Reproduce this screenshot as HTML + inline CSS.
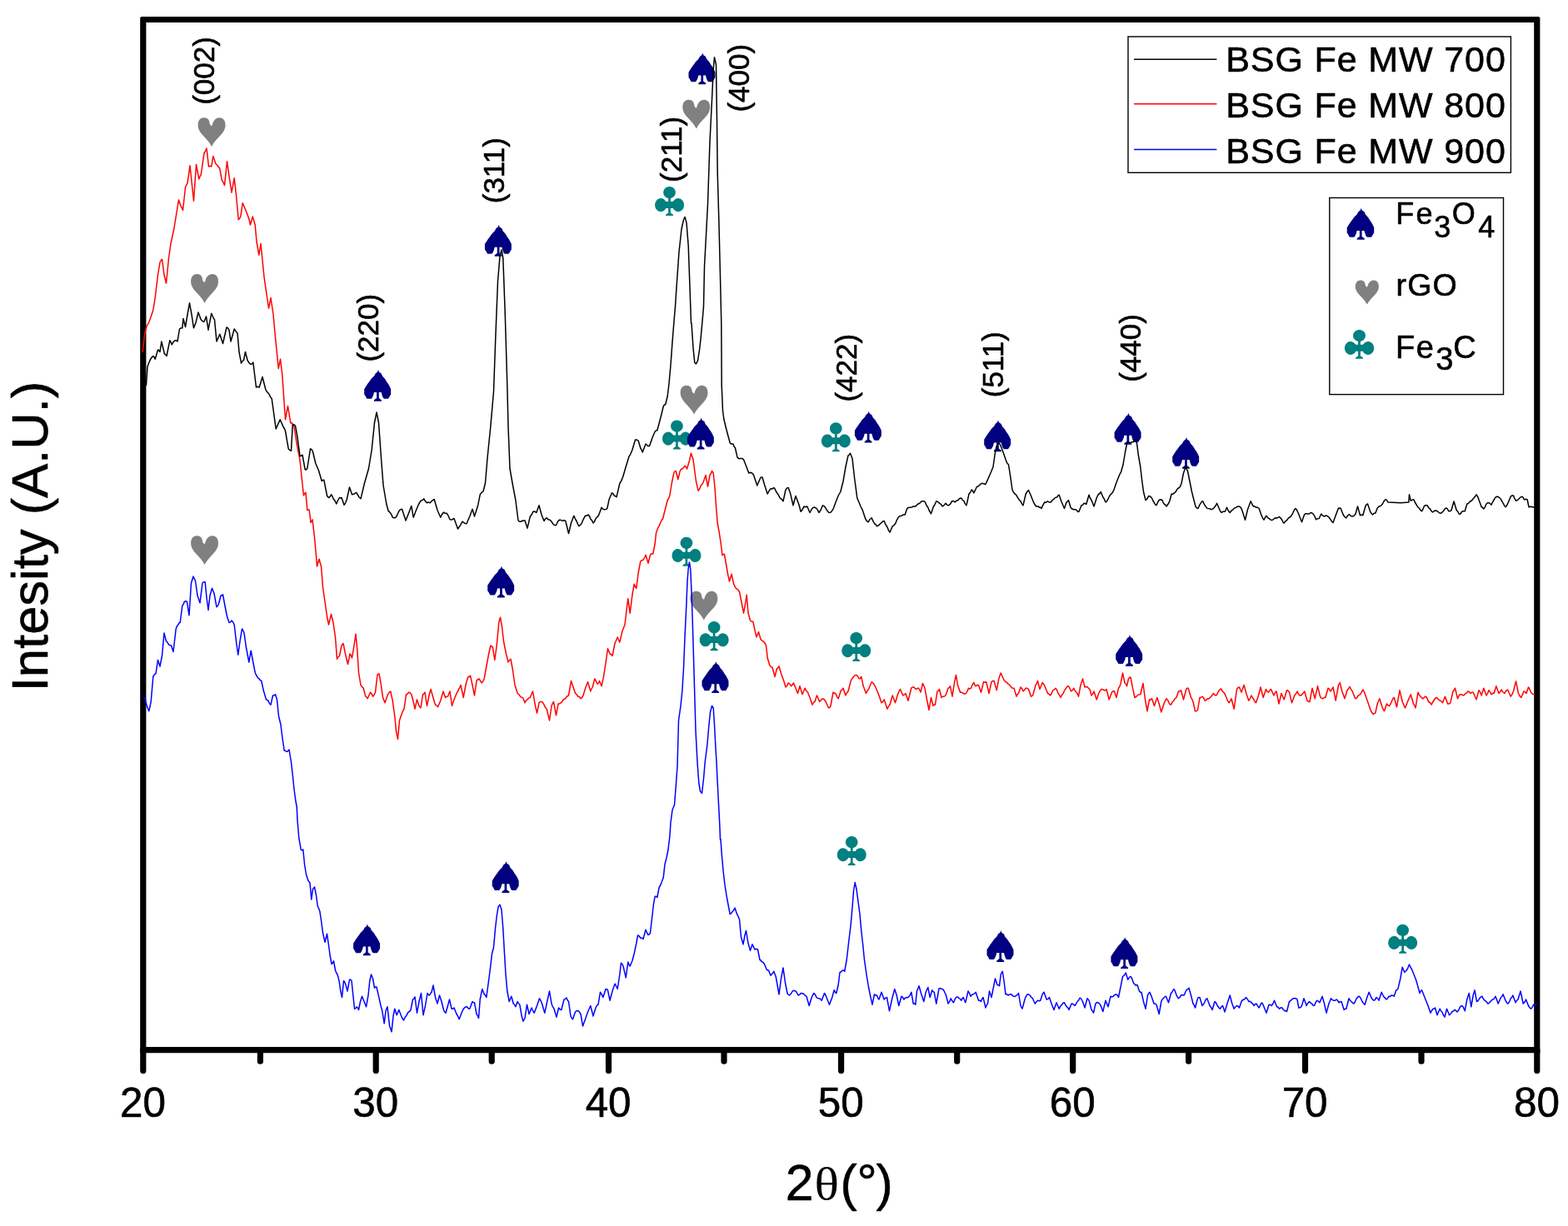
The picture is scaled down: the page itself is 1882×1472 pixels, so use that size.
<!DOCTYPE html>
<html lang="en"><head><meta charset="utf-8"><title>XRD patterns - BSG Fe MW 700 / 800 / 900</title>
<style>html,body{margin:0;padding:0;background:#fff;overflow:hidden}svg{display:block}.t{font-family:'Liberation Sans', sans-serif;fill:#000;stroke:#000;stroke-width:0.6px;stroke-linejoin:round}.c{fill:none;stroke-linejoin:round;stroke-linecap:round}</style></head>
<body>
<svg width="1882" height="1472" viewBox="0 0 1882 1472">
<rect x="0" y="0" width="1882" height="1472" fill="#fff"/>
<g id="axes" stroke="#000" stroke-width="7.2" fill="none" stroke-linecap="round" stroke-linejoin="round">
<path stroke="none" fill="#000" fill-rule="evenodd" d="M169.6 19.9H1847.0L1848.4 21.3V1264.2H168.2V21.3ZM175.4 27.1V1257.0H1841.2V27.1Z"/>
<path d="M171.8 1260.6V1285.4M312.4 1260.6V1274.2M451.2 1260.6V1285.4M590.2 1260.6V1274.2M730.5 1260.6V1285.4M869.0 1260.6V1274.2M1009.6 1260.6V1285.4M1148.7 1260.6V1274.2M1287.7 1260.6V1285.4M1426.6 1260.6V1274.2M1566.5 1260.6V1285.4M1706.0 1260.6V1274.2M1844.8 1260.6V1285.4"/>
</g>
<g id="markers">
<path class="m-heart" transform="translate(237.6 141.3)" fill="#808080" d="M16.43 9.89C15.39 9.09 14.25 8.44 14.02 6.83C13.76 3.29 12.13 0.00 6.98 0.00C2.67 0.00 0.00 3.61 0.00 9.09C0.00 13.60 2.35 17.46 5.93 21.27C10.50 26.16 14.09 30.03 16.43 34.80C18.78 30.03 22.40 26.16 27.00 21.27C30.59 17.46 32.93 13.60 32.93 9.09C32.93 3.61 30.26 0.00 25.96 0.00C21.59 0.00 18.98 3.29 17.74 6.51C17.41 7.80 17.09 9.09 16.43 9.89Z"/>
<path class="m-heart" transform="translate(229.1 329.1)" fill="#808080" d="M16.43 9.89C15.39 9.09 14.25 8.44 14.02 6.83C13.76 3.29 12.13 0.00 6.98 0.00C2.67 0.00 0.00 3.61 0.00 9.09C0.00 13.60 2.35 17.46 5.93 21.27C10.50 26.16 14.09 30.03 16.43 34.80C18.78 30.03 22.40 26.16 27.00 21.27C30.59 17.46 32.93 13.60 32.93 9.09C32.93 3.61 30.26 0.00 25.96 0.00C21.59 0.00 18.98 3.29 17.74 6.51C17.41 7.80 17.09 9.09 16.43 9.89Z"/>
<path class="m-heart" transform="translate(229.1 643.3)" fill="#808080" d="M16.43 9.89C15.39 9.09 14.25 8.44 14.02 6.83C13.76 3.29 12.13 0.00 6.98 0.00C2.67 0.00 0.00 3.61 0.00 9.09C0.00 13.60 2.35 17.46 5.93 21.27C10.50 26.16 14.09 30.03 16.43 34.80C18.78 30.03 22.40 26.16 27.00 21.27C30.59 17.46 32.93 13.60 32.93 9.09C32.93 3.61 30.26 0.00 25.96 0.00C21.59 0.00 18.98 3.29 17.74 6.51C17.41 7.80 17.09 9.09 16.43 9.89Z"/>
<path class="m-heart" transform="translate(819.3 119.8)" fill="#808080" d="M16.43 9.89C15.39 9.09 14.25 8.44 14.02 6.83C13.76 3.29 12.13 0.00 6.98 0.00C2.67 0.00 0.00 3.61 0.00 9.09C0.00 13.60 2.35 17.46 5.93 21.27C10.50 26.16 14.09 30.03 16.43 34.80C18.78 30.03 22.40 26.16 27.00 21.27C30.59 17.46 32.93 13.60 32.93 9.09C32.93 3.61 30.26 0.00 25.96 0.00C21.59 0.00 18.98 3.29 17.74 6.51C17.41 7.80 17.09 9.09 16.43 9.89Z"/>
<path class="m-heart" transform="translate(816.6 462.7)" fill="#808080" d="M16.43 9.89C15.39 9.09 14.25 8.44 14.02 6.83C13.76 3.29 12.13 0.00 6.98 0.00C2.67 0.00 0.00 3.61 0.00 9.09C0.00 13.60 2.35 17.46 5.93 21.27C10.50 26.16 14.09 30.03 16.43 34.80C18.78 30.03 22.40 26.16 27.00 21.27C30.59 17.46 32.93 13.60 32.93 9.09C32.93 3.61 30.26 0.00 25.96 0.00C21.59 0.00 18.98 3.29 17.74 6.51C17.41 7.80 17.09 9.09 16.43 9.89Z"/>
<path class="m-heart" transform="translate(828.4 709.8)" fill="#808080" d="M16.43 9.89C15.39 9.09 14.25 8.44 14.02 6.83C13.76 3.29 12.13 0.00 6.98 0.00C2.67 0.00 0.00 3.61 0.00 9.09C0.00 13.60 2.35 17.46 5.93 21.27C10.50 26.16 14.09 30.03 16.43 34.80C18.78 30.03 22.40 26.16 27.00 21.27C30.59 17.46 32.93 13.60 32.93 9.09C32.93 3.61 30.26 0.00 25.96 0.00C21.59 0.00 18.98 3.29 17.74 6.51C17.41 7.80 17.09 9.09 16.43 9.89Z"/>
<path class="m-club" transform="translate(786.0 223.9)" fill="#008080" d="M16.10 14.15L14.24 13.54L12.61 12.47L11.32 11.02L10.48 9.29L10.15 7.41L10.34 5.51L11.04 3.73L12.20 2.19L13.75 1.00L15.56 0.26L17.51 0.00L19.46 0.26L21.28 1.00L22.82 2.19L23.98 3.73L24.69 5.51L24.88 7.41L24.54 9.29L23.70 11.02L22.42 12.47L20.78 13.54L18.92 14.15L18.88 18.00L21.94 17.99L23.12 16.37L24.62 15.16L26.35 14.42L28.19 14.22L30.01 14.57L31.70 15.44L33.12 16.77L34.19 18.47L34.84 20.43L35.02 22.52L34.71 24.58L33.95 26.49L32.77 28.11L31.27 29.32L29.54 30.06L27.70 30.26L25.88 29.91L24.20 29.04L22.77 27.71L21.70 26.01L18.88 25.99L18.88 31.70L21.98 33.75L21.98 35.05L13.04 35.05L13.04 33.75L16.14 31.70L16.14 25.99L13.39 26.01L12.32 27.71L10.89 29.04L9.21 29.91L7.39 30.26L5.55 30.06L3.82 29.32L2.32 28.11L1.14 26.49L0.37 24.58L0.07 22.52L0.25 20.43L0.89 18.47L1.97 16.77L3.39 15.44L5.07 14.57L6.89 14.22L8.73 14.42L10.46 15.16L11.97 16.37L13.14 17.99L16.14 18.00Z"/>
<path class="m-club" transform="translate(794.9 504.4)" fill="#008080" d="M16.10 14.15L14.24 13.54L12.61 12.47L11.32 11.02L10.48 9.29L10.15 7.41L10.34 5.51L11.04 3.73L12.20 2.19L13.75 1.00L15.56 0.26L17.51 0.00L19.46 0.26L21.28 1.00L22.82 2.19L23.98 3.73L24.69 5.51L24.88 7.41L24.54 9.29L23.70 11.02L22.42 12.47L20.78 13.54L18.92 14.15L18.88 18.00L21.94 17.99L23.12 16.37L24.62 15.16L26.35 14.42L28.19 14.22L30.01 14.57L31.70 15.44L33.12 16.77L34.19 18.47L34.84 20.43L35.02 22.52L34.71 24.58L33.95 26.49L32.77 28.11L31.27 29.32L29.54 30.06L27.70 30.26L25.88 29.91L24.20 29.04L22.77 27.71L21.70 26.01L18.88 25.99L18.88 31.70L21.98 33.75L21.98 35.05L13.04 35.05L13.04 33.75L16.14 31.70L16.14 25.99L13.39 26.01L12.32 27.71L10.89 29.04L9.21 29.91L7.39 30.26L5.55 30.06L3.82 29.32L2.32 28.11L1.14 26.49L0.37 24.58L0.07 22.52L0.25 20.43L0.89 18.47L1.97 16.77L3.39 15.44L5.07 14.57L6.89 14.22L8.73 14.42L10.46 15.16L11.97 16.37L13.14 17.99L16.14 18.00Z"/>
<path class="m-club" transform="translate(985.8 507.2)" fill="#008080" d="M16.10 14.15L14.24 13.54L12.61 12.47L11.32 11.02L10.48 9.29L10.15 7.41L10.34 5.51L11.04 3.73L12.20 2.19L13.75 1.00L15.56 0.26L17.51 0.00L19.46 0.26L21.28 1.00L22.82 2.19L23.98 3.73L24.69 5.51L24.88 7.41L24.54 9.29L23.70 11.02L22.42 12.47L20.78 13.54L18.92 14.15L18.88 18.00L21.94 17.99L23.12 16.37L24.62 15.16L26.35 14.42L28.19 14.22L30.01 14.57L31.70 15.44L33.12 16.77L34.19 18.47L34.84 20.43L35.02 22.52L34.71 24.58L33.95 26.49L32.77 28.11L31.27 29.32L29.54 30.06L27.70 30.26L25.88 29.91L24.20 29.04L22.77 27.71L21.70 26.01L18.88 25.99L18.88 31.70L21.98 33.75L21.98 35.05L13.04 35.05L13.04 33.75L16.14 31.70L16.14 25.99L13.39 26.01L12.32 27.71L10.89 29.04L9.21 29.91L7.39 30.26L5.55 30.06L3.82 29.32L2.32 28.11L1.14 26.49L0.37 24.58L0.07 22.52L0.25 20.43L0.89 18.47L1.97 16.77L3.39 15.44L5.07 14.57L6.89 14.22L8.73 14.42L10.46 15.16L11.97 16.37L13.14 17.99L16.14 18.00Z"/>
<path class="m-club" transform="translate(806.4 644.8)" fill="#008080" d="M16.10 14.15L14.24 13.54L12.61 12.47L11.32 11.02L10.48 9.29L10.15 7.41L10.34 5.51L11.04 3.73L12.20 2.19L13.75 1.00L15.56 0.26L17.51 0.00L19.46 0.26L21.28 1.00L22.82 2.19L23.98 3.73L24.69 5.51L24.88 7.41L24.54 9.29L23.70 11.02L22.42 12.47L20.78 13.54L18.92 14.15L18.88 18.00L21.94 17.99L23.12 16.37L24.62 15.16L26.35 14.42L28.19 14.22L30.01 14.57L31.70 15.44L33.12 16.77L34.19 18.47L34.84 20.43L35.02 22.52L34.71 24.58L33.95 26.49L32.77 28.11L31.27 29.32L29.54 30.06L27.70 30.26L25.88 29.91L24.20 29.04L22.77 27.71L21.70 26.01L18.88 25.99L18.88 31.70L21.98 33.75L21.98 35.05L13.04 35.05L13.04 33.75L16.14 31.70L16.14 25.99L13.39 26.01L12.32 27.71L10.89 29.04L9.21 29.91L7.39 30.26L5.55 30.06L3.82 29.32L2.32 28.11L1.14 26.49L0.37 24.58L0.07 22.52L0.25 20.43L0.89 18.47L1.97 16.77L3.39 15.44L5.07 14.57L6.89 14.22L8.73 14.42L10.46 15.16L11.97 16.37L13.14 17.99L16.14 18.00Z"/>
<path class="m-club" transform="translate(839.6 746.1)" fill="#008080" d="M16.10 14.15L14.24 13.54L12.61 12.47L11.32 11.02L10.48 9.29L10.15 7.41L10.34 5.51L11.04 3.73L12.20 2.19L13.75 1.00L15.56 0.26L17.51 0.00L19.46 0.26L21.28 1.00L22.82 2.19L23.98 3.73L24.69 5.51L24.88 7.41L24.54 9.29L23.70 11.02L22.42 12.47L20.78 13.54L18.92 14.15L18.88 18.00L21.94 17.99L23.12 16.37L24.62 15.16L26.35 14.42L28.19 14.22L30.01 14.57L31.70 15.44L33.12 16.77L34.19 18.47L34.84 20.43L35.02 22.52L34.71 24.58L33.95 26.49L32.77 28.11L31.27 29.32L29.54 30.06L27.70 30.26L25.88 29.91L24.20 29.04L22.77 27.71L21.70 26.01L18.88 25.99L18.88 31.70L21.98 33.75L21.98 35.05L13.04 35.05L13.04 33.75L16.14 31.70L16.14 25.99L13.39 26.01L12.32 27.71L10.89 29.04L9.21 29.91L7.39 30.26L5.55 30.06L3.82 29.32L2.32 28.11L1.14 26.49L0.37 24.58L0.07 22.52L0.25 20.43L0.89 18.47L1.97 16.77L3.39 15.44L5.07 14.57L6.89 14.22L8.73 14.42L10.46 15.16L11.97 16.37L13.14 17.99L16.14 18.00Z"/>
<path class="m-club" transform="translate(1010.2 759.0)" fill="#008080" d="M16.10 14.15L14.24 13.54L12.61 12.47L11.32 11.02L10.48 9.29L10.15 7.41L10.34 5.51L11.04 3.73L12.20 2.19L13.75 1.00L15.56 0.26L17.51 0.00L19.46 0.26L21.28 1.00L22.82 2.19L23.98 3.73L24.69 5.51L24.88 7.41L24.54 9.29L23.70 11.02L22.42 12.47L20.78 13.54L18.92 14.15L18.88 18.00L21.94 17.99L23.12 16.37L24.62 15.16L26.35 14.42L28.19 14.22L30.01 14.57L31.70 15.44L33.12 16.77L34.19 18.47L34.84 20.43L35.02 22.52L34.71 24.58L33.95 26.49L32.77 28.11L31.27 29.32L29.54 30.06L27.70 30.26L25.88 29.91L24.20 29.04L22.77 27.71L21.70 26.01L18.88 25.99L18.88 31.70L21.98 33.75L21.98 35.05L13.04 35.05L13.04 33.75L16.14 31.70L16.14 25.99L13.39 26.01L12.32 27.71L10.89 29.04L9.21 29.91L7.39 30.26L5.55 30.06L3.82 29.32L2.32 28.11L1.14 26.49L0.37 24.58L0.07 22.52L0.25 20.43L0.89 18.47L1.97 16.77L3.39 15.44L5.07 14.57L6.89 14.22L8.73 14.42L10.46 15.16L11.97 16.37L13.14 17.99L16.14 18.00Z"/>
<path class="m-club" transform="translate(1004.7 1004.0)" fill="#008080" d="M16.10 14.15L14.24 13.54L12.61 12.47L11.32 11.02L10.48 9.29L10.15 7.41L10.34 5.51L11.04 3.73L12.20 2.19L13.75 1.00L15.56 0.26L17.51 0.00L19.46 0.26L21.28 1.00L22.82 2.19L23.98 3.73L24.69 5.51L24.88 7.41L24.54 9.29L23.70 11.02L22.42 12.47L20.78 13.54L18.92 14.15L18.88 18.00L21.94 17.99L23.12 16.37L24.62 15.16L26.35 14.42L28.19 14.22L30.01 14.57L31.70 15.44L33.12 16.77L34.19 18.47L34.84 20.43L35.02 22.52L34.71 24.58L33.95 26.49L32.77 28.11L31.27 29.32L29.54 30.06L27.70 30.26L25.88 29.91L24.20 29.04L22.77 27.71L21.70 26.01L18.88 25.99L18.88 31.70L21.98 33.75L21.98 35.05L13.04 35.05L13.04 33.75L16.14 31.70L16.14 25.99L13.39 26.01L12.32 27.71L10.89 29.04L9.21 29.91L7.39 30.26L5.55 30.06L3.82 29.32L2.32 28.11L1.14 26.49L0.37 24.58L0.07 22.52L0.25 20.43L0.89 18.47L1.97 16.77L3.39 15.44L5.07 14.57L6.89 14.22L8.73 14.42L10.46 15.16L11.97 16.37L13.14 17.99L16.14 18.00Z"/>
<path class="m-club" transform="translate(1666.1 1109.7)" fill="#008080" d="M16.10 14.15L14.24 13.54L12.61 12.47L11.32 11.02L10.48 9.29L10.15 7.41L10.34 5.51L11.04 3.73L12.20 2.19L13.75 1.00L15.56 0.26L17.51 0.00L19.46 0.26L21.28 1.00L22.82 2.19L23.98 3.73L24.69 5.51L24.88 7.41L24.54 9.29L23.70 11.02L22.42 12.47L20.78 13.54L18.92 14.15L18.88 18.00L21.94 17.99L23.12 16.37L24.62 15.16L26.35 14.42L28.19 14.22L30.01 14.57L31.70 15.44L33.12 16.77L34.19 18.47L34.84 20.43L35.02 22.52L34.71 24.58L33.95 26.49L32.77 28.11L31.27 29.32L29.54 30.06L27.70 30.26L25.88 29.91L24.20 29.04L22.77 27.71L21.70 26.01L18.88 25.99L18.88 31.70L21.98 33.75L21.98 35.05L13.04 35.05L13.04 33.75L16.14 31.70L16.14 25.99L13.39 26.01L12.32 27.71L10.89 29.04L9.21 29.91L7.39 30.26L5.55 30.06L3.82 29.32L2.32 28.11L1.14 26.49L0.37 24.58L0.07 22.52L0.25 20.43L0.89 18.47L1.97 16.77L3.39 15.44L5.07 14.57L6.89 14.22L8.73 14.42L10.46 15.16L11.97 16.37L13.14 17.99L16.14 18.00Z"/>
<path class="m-spade" transform="translate(437.2 443.9)" fill="#000080" d="M16.79 0.00L17.67 2.67L20.48 4.50L21.78 7.66L24.72 10.92L26.67 14.09L28.96 17.35L30.59 20.38L31.96 23.32L31.96 29.67L30.75 31.63L29.77 33.26L28.63 34.96L23.74 34.96L22.27 33.10L21.20 30.00L20.48 27.07L17.61 27.07L17.61 34.08L20.64 36.46L20.64 37.89L11.77 37.89L11.77 36.46L14.87 34.08L14.87 27.07L11.74 27.07L11.09 30.00L9.78 33.10L8.48 34.96L3.26 34.96L2.22 33.26L1.40 31.63L0.00 29.67L0.00 23.32L1.83 20.38L4.11 16.96L6.39 13.92L8.67 10.66L11.93 7.40L13.63 4.24L15.85 2.67Z"/>
<path class="m-spade" transform="translate(581.9 269.8)" fill="#000080" d="M16.79 0.00L17.67 2.67L20.48 4.50L21.78 7.66L24.72 10.92L26.67 14.09L28.96 17.35L30.59 20.38L31.96 23.32L31.96 29.67L30.75 31.63L29.77 33.26L28.63 34.96L23.74 34.96L22.27 33.10L21.20 30.00L20.48 27.07L17.61 27.07L17.61 34.08L20.64 36.46L20.64 37.89L11.77 37.89L11.77 36.46L14.87 34.08L14.87 27.07L11.74 27.07L11.09 30.00L9.78 33.10L8.48 34.96L3.26 34.96L2.22 33.26L1.40 31.63L0.00 29.67L0.00 23.32L1.83 20.38L4.11 16.96L6.39 13.92L8.67 10.66L11.93 7.40L13.63 4.24L15.85 2.67Z"/>
<path class="m-spade" transform="translate(826.5 63.4)" fill="#000080" d="M16.79 0.00L17.67 2.67L20.48 4.50L21.78 7.66L24.72 10.92L26.67 14.09L28.96 17.35L30.59 20.38L31.96 23.32L31.96 29.67L30.75 31.63L29.77 33.26L28.63 34.96L23.74 34.96L22.27 33.10L21.20 30.00L20.48 27.07L17.61 27.07L17.61 34.08L20.64 36.46L20.64 37.89L11.77 37.89L11.77 36.46L14.87 34.08L14.87 27.07L11.74 27.07L11.09 30.00L9.78 33.10L8.48 34.96L3.26 34.96L2.22 33.26L1.40 31.63L0.00 29.67L0.00 23.32L1.83 20.38L4.11 16.96L6.39 13.92L8.67 10.66L11.93 7.40L13.63 4.24L15.85 2.67Z"/>
<path class="m-spade" transform="translate(824.9 501.6)" fill="#000080" d="M16.79 0.00L17.67 2.67L20.48 4.50L21.78 7.66L24.72 10.92L26.67 14.09L28.96 17.35L30.59 20.38L31.96 23.32L31.96 29.67L30.75 31.63L29.77 33.26L28.63 34.96L23.74 34.96L22.27 33.10L21.20 30.00L20.48 27.07L17.61 27.07L17.61 34.08L20.64 36.46L20.64 37.89L11.77 37.89L11.77 36.46L14.87 34.08L14.87 27.07L11.74 27.07L11.09 30.00L9.78 33.10L8.48 34.96L3.26 34.96L2.22 33.26L1.40 31.63L0.00 29.67L0.00 23.32L1.83 20.38L4.11 16.96L6.39 13.92L8.67 10.66L11.93 7.40L13.63 4.24L15.85 2.67Z"/>
<path class="m-spade" transform="translate(1025.9 493.7)" fill="#000080" d="M16.79 0.00L17.67 2.67L20.48 4.50L21.78 7.66L24.72 10.92L26.67 14.09L28.96 17.35L30.59 20.38L31.96 23.32L31.96 29.67L30.75 31.63L29.77 33.26L28.63 34.96L23.74 34.96L22.27 33.10L21.20 30.00L20.48 27.07L17.61 27.07L17.61 34.08L20.64 36.46L20.64 37.89L11.77 37.89L11.77 36.46L14.87 34.08L14.87 27.07L11.74 27.07L11.09 30.00L9.78 33.10L8.48 34.96L3.26 34.96L2.22 33.26L1.40 31.63L0.00 29.67L0.00 23.32L1.83 20.38L4.11 16.96L6.39 13.92L8.67 10.66L11.93 7.40L13.63 4.24L15.85 2.67Z"/>
<path class="m-spade" transform="translate(1181.2 504.4)" fill="#000080" d="M16.79 0.00L17.67 2.67L20.48 4.50L21.78 7.66L24.72 10.92L26.67 14.09L28.96 17.35L30.59 20.38L31.96 23.32L31.96 29.67L30.75 31.63L29.77 33.26L28.63 34.96L23.74 34.96L22.27 33.10L21.20 30.00L20.48 27.07L17.61 27.07L17.61 34.08L20.64 36.46L20.64 37.89L11.77 37.89L11.77 36.46L14.87 34.08L14.87 27.07L11.74 27.07L11.09 30.00L9.78 33.10L8.48 34.96L3.26 34.96L2.22 33.26L1.40 31.63L0.00 29.67L0.00 23.32L1.83 20.38L4.11 16.96L6.39 13.92L8.67 10.66L11.93 7.40L13.63 4.24L15.85 2.67Z"/>
<path class="m-spade" transform="translate(1337.6 495.8)" fill="#000080" d="M16.79 0.00L17.67 2.67L20.48 4.50L21.78 7.66L24.72 10.92L26.67 14.09L28.96 17.35L30.59 20.38L31.96 23.32L31.96 29.67L30.75 31.63L29.77 33.26L28.63 34.96L23.74 34.96L22.27 33.10L21.20 30.00L20.48 27.07L17.61 27.07L17.61 34.08L20.64 36.46L20.64 37.89L11.77 37.89L11.77 36.46L14.87 34.08L14.87 27.07L11.74 27.07L11.09 30.00L9.78 33.10L8.48 34.96L3.26 34.96L2.22 33.26L1.40 31.63L0.00 29.67L0.00 23.32L1.83 20.38L4.11 16.96L6.39 13.92L8.67 10.66L11.93 7.40L13.63 4.24L15.85 2.67Z"/>
<path class="m-spade" transform="translate(1407.2 524.9)" fill="#000080" d="M16.79 0.00L17.67 2.67L20.48 4.50L21.78 7.66L24.72 10.92L26.67 14.09L28.96 17.35L30.59 20.38L31.96 23.32L31.96 29.67L30.75 31.63L29.77 33.26L28.63 34.96L23.74 34.96L22.27 33.10L21.20 30.00L20.48 27.07L17.61 27.07L17.61 34.08L20.64 36.46L20.64 37.89L11.77 37.89L11.77 36.46L14.87 34.08L14.87 27.07L11.74 27.07L11.09 30.00L9.78 33.10L8.48 34.96L3.26 34.96L2.22 33.26L1.40 31.63L0.00 29.67L0.00 23.32L1.83 20.38L4.11 16.96L6.39 13.92L8.67 10.66L11.93 7.40L13.63 4.24L15.85 2.67Z"/>
<path class="m-spade" transform="translate(585.2 679.5)" fill="#000080" d="M16.79 0.00L17.67 2.67L20.48 4.50L21.78 7.66L24.72 10.92L26.67 14.09L28.96 17.35L30.59 20.38L31.96 23.32L31.96 29.67L30.75 31.63L29.77 33.26L28.63 34.96L23.74 34.96L22.27 33.10L21.20 30.00L20.48 27.07L17.61 27.07L17.61 34.08L20.64 36.46L20.64 37.89L11.77 37.89L11.77 36.46L14.87 34.08L14.87 27.07L11.74 27.07L11.09 30.00L9.78 33.10L8.48 34.96L3.26 34.96L2.22 33.26L1.40 31.63L0.00 29.67L0.00 23.32L1.83 20.38L4.11 16.96L6.39 13.92L8.67 10.66L11.93 7.40L13.63 4.24L15.85 2.67Z"/>
<path class="m-spade" transform="translate(1339.2 762.0)" fill="#000080" d="M16.79 0.00L17.67 2.67L20.48 4.50L21.78 7.66L24.72 10.92L26.67 14.09L28.96 17.35L30.59 20.38L31.96 23.32L31.96 29.67L30.75 31.63L29.77 33.26L28.63 34.96L23.74 34.96L22.27 33.10L21.20 30.00L20.48 27.07L17.61 27.07L17.61 34.08L20.64 36.46L20.64 37.89L11.77 37.89L11.77 36.46L14.87 34.08L14.87 27.07L11.74 27.07L11.09 30.00L9.78 33.10L8.48 34.96L3.26 34.96L2.22 33.26L1.40 31.63L0.00 29.67L0.00 23.32L1.83 20.38L4.11 16.96L6.39 13.92L8.67 10.66L11.93 7.40L13.63 4.24L15.85 2.67Z"/>
<path class="m-spade" transform="translate(842.5 794.2)" fill="#000080" d="M16.79 0.00L17.67 2.67L20.48 4.50L21.78 7.66L24.72 10.92L26.67 14.09L28.96 17.35L30.59 20.38L31.96 23.32L31.96 29.67L30.75 31.63L29.77 33.26L28.63 34.96L23.74 34.96L22.27 33.10L21.20 30.00L20.48 27.07L17.61 27.07L17.61 34.08L20.64 36.46L20.64 37.89L11.77 37.89L11.77 36.46L14.87 34.08L14.87 27.07L11.74 27.07L11.09 30.00L9.78 33.10L8.48 34.96L3.26 34.96L2.22 33.26L1.40 31.63L0.00 29.67L0.00 23.32L1.83 20.38L4.11 16.96L6.39 13.92L8.67 10.66L11.93 7.40L13.63 4.24L15.85 2.67Z"/>
<path class="m-spade" transform="translate(424.1 1109.4)" fill="#000080" d="M16.79 0.00L17.67 2.67L20.48 4.50L21.78 7.66L24.72 10.92L26.67 14.09L28.96 17.35L30.59 20.38L31.96 23.32L31.96 29.67L30.75 31.63L29.77 33.26L28.63 34.96L23.74 34.96L22.27 33.10L21.20 30.00L20.48 27.07L17.61 27.07L17.61 34.08L20.64 36.46L20.64 37.89L11.77 37.89L11.77 36.46L14.87 34.08L14.87 27.07L11.74 27.07L11.09 30.00L9.78 33.10L8.48 34.96L3.26 34.96L2.22 33.26L1.40 31.63L0.00 29.67L0.00 23.32L1.83 20.38L4.11 16.96L6.39 13.92L8.67 10.66L11.93 7.40L13.63 4.24L15.85 2.67Z"/>
<path class="m-spade" transform="translate(590.7 1034.1)" fill="#000080" d="M16.79 0.00L17.67 2.67L20.48 4.50L21.78 7.66L24.72 10.92L26.67 14.09L28.96 17.35L30.59 20.38L31.96 23.32L31.96 29.67L30.75 31.63L29.77 33.26L28.63 34.96L23.74 34.96L22.27 33.10L21.20 30.00L20.48 27.07L17.61 27.07L17.61 34.08L20.64 36.46L20.64 37.89L11.77 37.89L11.77 36.46L14.87 34.08L14.87 27.07L11.74 27.07L11.09 30.00L9.78 33.10L8.48 34.96L3.26 34.96L2.22 33.26L1.40 31.63L0.00 29.67L0.00 23.32L1.83 20.38L4.11 16.96L6.39 13.92L8.67 10.66L11.93 7.40L13.63 4.24L15.85 2.67Z"/>
<path class="m-spade" transform="translate(1184.5 1117.0)" fill="#000080" d="M16.79 0.00L17.67 2.67L20.48 4.50L21.78 7.66L24.72 10.92L26.67 14.09L28.96 17.35L30.59 20.38L31.96 23.32L31.96 29.67L30.75 31.63L29.77 33.26L28.63 34.96L23.74 34.96L22.27 33.10L21.20 30.00L20.48 27.07L17.61 27.07L17.61 34.08L20.64 36.46L20.64 37.89L11.77 37.89L11.77 36.46L14.87 34.08L14.87 27.07L11.74 27.07L11.09 30.00L9.78 33.10L8.48 34.96L3.26 34.96L2.22 33.26L1.40 31.63L0.00 29.67L0.00 23.32L1.83 20.38L4.11 16.96L6.39 13.92L8.67 10.66L11.93 7.40L13.63 4.24L15.85 2.67Z"/>
<path class="m-spade" transform="translate(1333.4 1125.2)" fill="#000080" d="M16.79 0.00L17.67 2.67L20.48 4.50L21.78 7.66L24.72 10.92L26.67 14.09L28.96 17.35L30.59 20.38L31.96 23.32L31.96 29.67L30.75 31.63L29.77 33.26L28.63 34.96L23.74 34.96L22.27 33.10L21.20 30.00L20.48 27.07L17.61 27.07L17.61 34.08L20.64 36.46L20.64 37.89L11.77 37.89L11.77 36.46L14.87 34.08L14.87 27.07L11.74 27.07L11.09 30.00L9.78 33.10L8.48 34.96L3.26 34.96L2.22 33.26L1.40 31.63L0.00 29.67L0.00 23.32L1.83 20.38L4.11 16.96L6.39 13.92L8.67 10.66L11.93 7.40L13.63 4.24L15.85 2.67Z"/>
</g>
<g id="miller" class="t" font-size="35" text-anchor="middle">
<text transform="translate(256.5 85.0) rotate(-90)">(002)</text>
<text transform="translate(454.0 393.7) rotate(-90)">(220)</text>
<text transform="translate(605.0 204.7) rotate(-90)">(311)</text>
<text transform="translate(817.7 179.4) rotate(-90)">(211)</text>
<text transform="translate(899.0 93.7) rotate(-90)">(400)</text>
<text transform="translate(1027.7 441.7) rotate(-90)">(422)</text>
<text transform="translate(1204.0 437.7) rotate(-90)">(511)</text>
<text transform="translate(1369.0 418.0) rotate(-90)">(440)</text>
</g>
<g id="curves" class="c" stroke-width="1.5">
<polyline stroke="#0000ff" points="172.0,837.5 173.1,837.8 174.5,840.0 176.2,847.5 178.8,853.8 181.2,842.5 183.8,812.5 185.5,809.7 187.0,808.8 189.5,792.5 192.0,800.0 194.5,787.5 197.0,760.0 199.5,770.0 200.7,770.8 202.5,773.8 203.7,774.7 205.5,775.0 208.0,782.5 211.2,755.0 212.2,752.2 213.8,750.0 215.3,747.7 216.2,747.5 218.8,727.5 220.2,725.4 221.2,722.5 223.1,721.7 224.5,722.5 227.0,738.8 229.5,700.0 232.0,692.0 234.5,697.5 237.0,715.0 240.0,723.8 243.0,700.0 244.4,698.8 246.2,698.8 248.0,717.5 250.0,732.5 252.0,715.0 254.5,706.2 257.0,712.5 260.0,728.8 261.4,727.3 262.5,725.0 265.0,715.0 266.5,715.0 267.5,713.8 270.0,727.5 272.5,740.0 275.0,747.5 276.4,747.1 278.0,745.0 279.7,746.9 281.2,750.0 283.8,772.5 285.8,786.2 288.0,770.0 290.5,755.0 291.9,757.3 293.0,760.0 295.5,777.5 298.8,795.0 301.2,781.2 303.8,795.0 306.2,807.5 307.3,810.1 308.8,812.5 310.0,814.3 311.2,815.0 312.2,816.7 313.8,817.5 316.2,828.8 319.5,840.0 321.1,840.5 322.5,842.5 323.5,844.7 325.0,846.2 327.5,835.0 329.4,834.7 330.5,833.8 332.5,840.0 334.5,860.0 337.0,870.0 338.8,885.0 341.2,901.2 342.4,901.3 343.8,902.5 345.4,902.0 347.0,900.0 349.5,915.0 351.2,930.0 353.0,947.5 355.0,962.5 356.2,968.0 357.0,985.0 358.8,1006.2 361.2,1020.0 362.2,1020.8 363.8,1020.0 365.5,1037.5 367.5,1050.0 370.0,1057.5 372.0,1060.0 373.8,1080.0 375.5,1067.5 377.5,1065.0 379.5,1075.0 381.2,1087.5 383.8,1093.8 385.5,1105.0 387.5,1120.0 390.0,1131.2 392.5,1121.2 394.5,1135.0 396.2,1147.5 398.0,1157.5 399.1,1156.4 400.5,1153.8 402.5,1165.0 404.0,1168.7 405.0,1170.0 407.0,1177.5 408.8,1190.0 410.5,1197.5 412.5,1177.5 413.9,1179.5 415.0,1182.5 417.0,1190.0 419.5,1176.2 420.5,1176.1 422.0,1177.5 423.8,1195.0 425.5,1211.2 426.8,1210.6 428.0,1208.8 429.3,1210.1 430.5,1212.5 432.5,1202.5 434.5,1196.2 437.0,1202.5 439.5,1208.8 442.0,1195.0 443.8,1177.5 445.5,1170.0 447.5,1175.0 449.5,1186.2 450.5,1184.9 452.0,1185.0 454.5,1196.2 457.0,1207.5 458.8,1213.8 461.2,1228.8 463.0,1213.8 465.0,1208.8 467.5,1231.2 470.0,1238.8 472.0,1220.0 473.8,1211.2 476.2,1218.8 478.8,1212.5 481.2,1218.8 482.6,1222.0 484.5,1225.0 486.1,1221.5 487.5,1220.0 489.3,1216.3 490.5,1215.0 491.5,1214.5 493.0,1212.5 495.5,1200.0 496.6,1199.4 498.0,1197.0 500.5,1216.2 503.0,1202.5 505.5,1192.5 508.0,1218.8 510.5,1207.5 513.0,1192.5 514.4,1194.6 515.5,1195.0 517.0,1192.3 518.0,1191.2 520.0,1183.0 522.5,1197.5 525.0,1205.0 527.5,1195.0 530.0,1202.5 532.5,1212.5 533.6,1214.9 535.0,1216.2 537.5,1207.5 539.5,1200.0 542.0,1211.2 543.5,1211.2 545.0,1210.0 548.0,1217.5 549.3,1219.5 551.2,1223.8 554.5,1215.0 556.2,1211.4 557.5,1210.0 558.8,1208.9 560.5,1208.8 562.2,1210.9 563.8,1211.2 567.0,1202.5 568.3,1203.7 569.5,1203.8 572.0,1217.5 573.1,1219.2 574.5,1222.5 576.2,1200.0 578.8,1187.5 581.2,1193.8 582.5,1194.8 583.8,1197.5 586.2,1180.0 588.8,1160.0 590.5,1145.0 592.5,1137.5 594.5,1115.0 596.2,1100.0 598.0,1088.8 600.0,1086.2 602.0,1092.5 603.8,1115.0 605.5,1145.0 607.0,1170.0 608.8,1190.0 611.2,1202.5 613.8,1196.2 616.2,1205.0 617.6,1206.2 618.8,1208.8 621.2,1202.5 622.4,1204.8 623.8,1206.2 626.2,1220.0 628.0,1226.2 630.0,1222.5 632.5,1206.2 635.0,1217.5 638.0,1210.0 639.7,1213.7 641.2,1216.2 644.5,1207.5 647.5,1198.8 649.0,1201.4 650.5,1205.0 653.8,1216.2 656.2,1205.0 659.5,1190.0 662.0,1205.0 663.1,1208.1 665.0,1211.2 668.0,1221.2 670.5,1210.0 671.9,1211.8 673.8,1212.5 677.0,1200.0 678.3,1199.6 680.0,1198.0 681.1,1200.8 682.5,1202.5 685.0,1220.0 686.3,1222.4 687.5,1223.8 690.5,1215.0 692.2,1213.5 693.8,1213.8 694.9,1214.3 697.0,1217.5 699.5,1232.0 702.5,1223.8 705.5,1215.0 708.8,1207.5 712.0,1220.0 715.0,1210.0 716.5,1207.2 718.0,1206.2 720.5,1191.2 722.5,1194.6 723.8,1197.5 727.0,1187.5 728.6,1187.7 729.5,1188.8 732.0,1201.2 735.0,1190.0 738.0,1181.2 739.9,1184.5 741.2,1187.5 743.8,1170.0 745.5,1156.2 746.6,1157.1 748.0,1160.0 751.2,1173.8 753.8,1155.0 755.3,1158.7 756.2,1160.0 758.8,1153.8 761.2,1145.0 763.8,1132.5 765.5,1123.0 767.0,1123.7 768.8,1126.2 770.8,1126.3 772.0,1127.5 775.0,1116.2 776.9,1120.9 778.0,1122.5 779.1,1122.0 780.5,1120.0 782.5,1102.5 784.5,1085.0 786.2,1076.2 787.4,1076.3 788.8,1077.5 791.2,1065.0 792.1,1064.1 793.8,1060.0 796.2,1053.8 798.0,1037.5 800.0,1030.0 802.0,1020.0 803.8,1005.0 805.0,987.5 807.0,972.5 809.5,966.2 811.2,945.0 813.0,920.0 814.5,865.0 817.0,847.5 818.8,830.0 820.5,802.5 822.0,765.0 823.8,727.5 825.0,697.5 826.2,682.5 827.5,675.0 828.8,683.8 830.0,710.0 831.2,745.0 832.5,790.0 833.8,835.0 835.0,877.5 837.0,915.0 838.8,940.0 840.5,950.0 842.5,952.5 844.5,935.0 846.2,915.0 848.8,895.0 850.5,875.0 852.5,855.0 854.5,847.5 856.2,850.0 857.5,870.0 858.8,895.0 860.0,915.0 861.2,940.0 862.5,965.0 863.8,990.0 864.5,1008.0 865.0,1007.5 866.2,1025.0 868.0,1045.0 870.0,1062.5 872.0,1075.0 873.8,1085.0 876.2,1097.5 877.9,1096.4 878.8,1095.0 880.8,1092.6 882.0,1090.0 884.5,1097.5 885.6,1099.2 887.5,1103.8 889.5,1125.0 892.0,1133.8 893.8,1123.8 895.5,1117.5 898.0,1132.5 900.5,1141.2 903.0,1133.8 905.1,1138.4 906.2,1140.0 907.5,1139.3 909.5,1140.0 912.0,1152.5 912.9,1152.7 914.5,1155.0 915.8,1155.2 917.5,1157.5 920.0,1163.8 921.1,1164.9 922.5,1165.0 925.0,1171.2 927.4,1168.6 928.8,1166.2 931.2,1172.5 933.0,1182.5 935.0,1193.8 937.5,1175.0 940.0,1162.0 942.5,1180.0 945.0,1192.5 946.0,1194.0 947.5,1195.0 949.2,1193.5 951.2,1190.0 952.6,1189.3 955.0,1190.0 956.5,1192.0 958.0,1195.0 959.7,1194.2 961.2,1192.5 963.6,1192.7 965.0,1193.8 966.7,1195.6 968.0,1196.2 971.2,1207.5 973.8,1198.8 975.4,1195.0 977.0,1192.5 978.6,1194.4 980.0,1197.5 981.4,1198.6 983.0,1198.8 984.2,1199.1 986.2,1201.2 989.5,1192.5 991.0,1195.0 992.5,1198.8 995.5,1206.2 998.8,1197.5 1001.2,1188.8 1002.8,1191.8 1003.8,1192.5 1006.2,1182.5 1008.0,1167.5 1009.7,1166.7 1011.2,1165.0 1012.5,1165.1 1013.8,1166.2 1016.2,1152.5 1018.8,1130.0 1021.2,1110.0 1023.0,1090.0 1024.5,1070.0 1026.2,1059.5 1028.0,1067.5 1030.0,1082.5 1032.0,1097.5 1033.8,1117.5 1035.5,1132.5 1037.5,1152.5 1040.0,1170.0 1042.5,1185.0 1045.0,1197.5 1047.0,1206.2 1049.5,1193.8 1051.4,1195.3 1052.5,1195.0 1054.0,1198.8 1055.0,1200.0 1058.0,1191.2 1061.2,1200.0 1063.0,1198.1 1064.5,1197.5 1067.5,1213.8 1070.5,1200.0 1073.8,1187.5 1076.2,1195.0 1078.8,1207.5 1082.0,1196.2 1083.2,1197.0 1085.0,1200.0 1086.1,1198.4 1088.0,1197.5 1089.6,1197.7 1091.2,1196.2 1092.4,1194.7 1093.8,1191.2 1096.2,1205.0 1097.5,1204.8 1098.8,1206.2 1100.5,1190.0 1103.0,1183.8 1105.5,1192.5 1108.8,1202.5 1111.2,1191.2 1113.8,1185.5 1116.2,1197.5 1118.8,1188.8 1120.0,1190.6 1121.2,1191.2 1123.8,1205.0 1127.0,1187.0 1128.7,1186.5 1130.0,1187.5 1131.4,1187.6 1133.0,1189.5 1135.5,1195.0 1138.0,1205.0 1140.0,1201.9 1141.2,1198.8 1143.2,1202.3 1144.5,1203.8 1146.0,1200.2 1147.5,1197.5 1148.7,1197.0 1150.5,1198.0 1152.6,1199.5 1153.8,1201.2 1155.0,1198.8 1156.2,1197.5 1158.8,1203.8 1162.0,1190.0 1163.9,1193.2 1165.0,1196.2 1166.6,1194.2 1168.0,1193.8 1169.7,1192.9 1171.2,1191.2 1174.5,1201.2 1175.6,1201.2 1177.5,1202.5 1178.5,1199.7 1180.0,1197.5 1183.0,1210.0 1184.4,1206.4 1185.5,1205.0 1187.5,1190.0 1190.0,1197.5 1192.5,1185.0 1194.5,1175.0 1197.0,1182.5 1198.5,1182.8 1199.5,1183.8 1201.2,1170.0 1203.2,1166.2 1205.0,1177.5 1207.0,1193.8 1208.4,1193.6 1210.0,1195.0 1211.9,1193.9 1213.8,1193.8 1215.6,1195.8 1217.0,1196.2 1218.3,1196.5 1220.0,1195.0 1221.4,1194.4 1222.5,1192.5 1225.0,1207.5 1227.0,1211.2 1230.0,1200.0 1231.3,1196.8 1233.0,1193.8 1234.8,1194.0 1236.2,1195.0 1237.5,1197.0 1239.5,1198.8 1241.4,1203.3 1242.5,1205.0 1244.0,1202.7 1245.5,1201.2 1247.5,1201.8 1248.8,1201.2 1251.2,1193.8 1253.0,1191.2 1256.2,1200.0 1257.9,1199.4 1259.5,1197.5 1262.5,1206.2 1265.0,1212.5 1268.0,1203.8 1271.2,1211.2 1272.7,1208.2 1274.5,1206.2 1276.0,1204.2 1277.5,1203.8 1279.3,1207.4 1280.5,1208.8 1281.7,1209.8 1283.0,1212.5 1286.2,1205.0 1288.3,1205.8 1290.0,1207.5 1291.2,1206.0 1293.0,1202.5 1294.5,1201.2 1296.2,1198.0 1297.5,1199.0 1299.5,1202.5 1302.0,1210.0 1305.0,1198.8 1306.3,1200.0 1307.5,1202.5 1310.0,1212.5 1311.3,1213.8 1312.5,1216.2 1315.0,1205.0 1316.5,1203.6 1318.0,1203.8 1319.5,1204.9 1321.2,1207.5 1323.8,1214.5 1327.0,1201.2 1330.0,1208.8 1333.0,1196.2 1334.5,1196.9 1336.2,1196.2 1337.5,1194.7 1339.5,1193.8 1341.3,1195.2 1342.5,1197.5 1345.0,1185.0 1347.5,1172.5 1349.3,1171.1 1351.2,1168.0 1353.8,1176.2 1355.8,1173.2 1357.0,1172.5 1358.0,1173.6 1359.5,1177.5 1360.6,1180.2 1362.5,1182.5 1363.4,1183.0 1365.0,1182.5 1367.5,1190.0 1369.1,1191.6 1370.0,1191.2 1372.5,1202.5 1375.0,1211.2 1377.5,1195.0 1378.5,1192.9 1380.0,1191.2 1382.5,1197.5 1385.0,1205.0 1386.6,1205.0 1388.0,1206.2 1391.2,1217.5 1393.8,1202.5 1394.8,1200.2 1396.2,1198.8 1397.8,1197.1 1399.5,1196.2 1402.5,1203.8 1405.5,1192.5 1406.7,1191.4 1408.8,1187.5 1410.3,1189.7 1411.2,1192.5 1412.8,1196.4 1414.5,1198.8 1416.1,1197.3 1417.5,1195.0 1419.4,1194.5 1421.2,1195.0 1423.2,1190.3 1424.5,1188.0 1425.5,1188.1 1427.0,1186.2 1429.5,1195.0 1432.0,1205.0 1433.3,1206.9 1434.5,1210.0 1437.5,1198.8 1438.4,1197.8 1440.0,1197.5 1443.0,1207.5 1444.9,1205.3 1446.2,1202.5 1447.2,1200.2 1448.8,1198.8 1452.0,1207.5 1453.7,1209.8 1455.0,1212.5 1458.0,1202.5 1459.2,1203.6 1461.2,1207.5 1463.3,1210.3 1464.5,1211.2 1466.2,1208.5 1467.5,1207.5 1470.0,1215.0 1473.0,1205.0 1476.2,1195.0 1478.8,1205.0 1481.2,1211.2 1482.5,1209.2 1484.5,1207.5 1486.2,1208.2 1487.5,1210.0 1490.0,1202.5 1491.1,1201.0 1493.0,1200.0 1494.0,1199.7 1495.5,1197.5 1497.6,1200.1 1498.8,1202.5 1500.5,1202.3 1502.0,1203.8 1503.8,1205.3 1505.0,1207.5 1506.4,1205.7 1508.0,1205.0 1509.5,1207.9 1511.2,1210.0 1513.1,1205.9 1514.5,1203.8 1515.9,1206.0 1517.5,1210.0 1520.0,1216.2 1523.0,1206.2 1524.9,1206.4 1526.2,1207.5 1528.1,1204.8 1529.5,1201.2 1532.5,1208.8 1534.1,1209.3 1535.5,1211.2 1537.5,1209.8 1538.8,1210.0 1540.1,1212.0 1542.0,1213.8 1543.2,1213.6 1544.5,1214.5 1547.5,1202.5 1549.3,1201.4 1550.5,1200.0 1552.5,1198.7 1553.8,1198.8 1555.2,1198.5 1557.0,1200.0 1558.8,1210.0 1559.5,1210.0 1561.0,1209.5 1562.5,1207.5 1565.0,1198.8 1568.2,1207.5 1569.4,1204.9 1571.5,1202.5 1572.9,1204.1 1574.5,1205.0 1575.9,1207.0 1577.5,1207.5 1579.5,1202.8 1580.8,1201.2 1582.0,1201.8 1584.0,1203.8 1587.0,1196.2 1589.5,1205.0 1592.0,1216.2 1595.0,1205.0 1597.5,1198.8 1599.2,1200.6 1600.8,1201.2 1602.7,1201.3 1604.0,1200.0 1605.5,1201.2 1607.0,1203.8 1608.4,1202.7 1610.0,1202.5 1613.2,1212.5 1614.5,1211.2 1615.8,1211.2 1619.0,1198.8 1620.7,1201.5 1622.0,1202.5 1623.5,1204.3 1625.0,1205.0 1626.3,1203.0 1628.2,1198.8 1630.3,1196.4 1631.5,1196.2 1633.3,1198.6 1635.0,1202.5 1636.9,1205.1 1638.2,1206.2 1640.8,1197.5 1643.2,1191.2 1645.8,1197.5 1647.3,1199.8 1649.0,1201.2 1650.2,1200.6 1652.0,1197.5 1653.7,1199.0 1655.0,1201.2 1658.2,1191.2 1660.1,1195.3 1661.5,1197.5 1662.4,1198.0 1664.0,1200.0 1665.2,1199.2 1667.0,1196.2 1668.6,1196.4 1670.0,1195.0 1671.8,1195.2 1673.2,1196.2 1675.8,1188.8 1677.3,1188.1 1678.2,1186.2 1680.8,1175.0 1683.2,1161.2 1685.8,1167.5 1686.7,1166.1 1688.2,1165.0 1689.8,1162.3 1691.5,1158.0 1692.8,1161.0 1694.5,1163.8 1697.0,1170.0 1699.5,1176.2 1702.0,1185.0 1704.0,1192.5 1705.2,1189.9 1706.5,1188.8 1709.0,1195.0 1711.5,1201.2 1714.0,1207.5 1717.0,1216.2 1718.2,1213.8 1720.0,1211.2 1721.0,1211.3 1722.5,1210.0 1725.0,1218.8 1728.2,1211.2 1729.6,1214.0 1730.8,1215.0 1732.1,1218.0 1734.0,1221.2 1736.5,1211.2 1739.5,1218.8 1741.2,1217.3 1742.5,1215.0 1744.0,1214.3 1745.8,1212.5 1747.4,1213.2 1749.0,1215.0 1750.8,1212.7 1752.0,1210.0 1753.1,1208.2 1755.0,1207.5 1756.2,1209.1 1758.2,1213.8 1760.8,1200.0 1763.2,1192.5 1765.8,1208.8 1768.2,1195.0 1770.0,1188.8 1772.5,1202.5 1774.0,1201.6 1775.8,1198.8 1777.3,1197.1 1779.0,1196.2 1780.2,1199.1 1782.0,1201.2 1784.3,1202.8 1785.8,1205.0 1787.1,1204.6 1789.0,1202.5 1790.7,1200.5 1792.0,1200.0 1793.1,1199.3 1795.0,1196.2 1798.2,1205.0 1801.5,1197.5 1802.7,1196.5 1804.0,1193.8 1807.0,1201.2 1808.8,1204.3 1810.0,1205.0 1812.1,1201.8 1813.2,1198.8 1814.7,1197.4 1815.8,1195.0 1819.0,1203.8 1820.1,1201.6 1822.0,1200.0 1825.0,1190.0 1828.2,1205.0 1830.3,1202.7 1831.5,1200.0 1834.5,1207.5 1836.3,1210.2 1837.5,1211.2 1838.7,1210.0 1840.8,1206.2 1842.5,1206.4 1844.5,1205.5"/>
<polyline stroke="#ff0000" points="171.2,422.5 173.8,400.0 176.2,391.2 178.1,388.3 180.0,383.8 183.8,372.5 186.2,357.5 189.5,330.0 192.0,315.0 193.5,312.2 194.5,311.2 197.0,330.0 199.5,340.0 202.5,310.0 205.0,292.5 208.8,275.0 212.0,255.0 214.5,240.0 217.0,247.5 218.3,249.5 219.5,252.5 222.5,225.0 223.6,222.1 225.0,220.0 228.0,198.8 230.5,222.5 232.5,241.2 235.5,197.5 238.8,215.0 240.3,211.2 241.2,210.0 245.0,183.8 246.4,181.8 248.0,178.0 250.5,200.0 252.2,199.3 253.8,200.0 255.8,187.5 258.8,196.2 261.7,199.5 263.8,202.5 266.2,216.2 267.6,218.1 269.5,222.5 272.5,193.8 275.5,215.0 278.0,231.2 281.2,213.8 283.8,237.5 286.2,263.8 287.7,262.2 288.8,260.0 291.2,243.8 295.0,252.5 298.8,262.5 300.5,270.0 303.2,260.0 306.2,270.0 308.0,290.0 310.8,306.2 313.0,292.5 315.0,312.5 317.0,332.5 319.5,350.0 322.5,370.0 325.0,357.5 328.0,377.5 330.0,400.0 332.5,425.0 334.2,442.5 336.5,431.2 338.8,450.0 340.5,475.0 342.5,503.8 345.5,487.5 348.8,508.0 350.0,507.5 351.8,509.8 353.0,512.5 356.2,532.5 360.0,552.5 362.0,572.5 364.5,595.0 365.7,592.5 367.0,591.2 368.8,612.5 369.8,611.7 371.2,612.5 373.0,627.5 375.0,623.8 377.5,645.0 379.5,667.5 380.5,680.0 383.0,671.2 385.5,680.0 387.5,705.0 390.0,722.5 392.5,740.0 394.5,750.0 397.5,737.5 400.0,747.5 402.5,765.0 404.5,791.2 405.8,788.9 407.5,787.5 410.0,775.0 412.0,772.5 414.5,785.0 417.5,797.5 420.0,785.0 420.9,786.2 422.5,790.0 425.0,775.0 427.0,761.2 428.8,780.0 430.5,807.5 433.0,822.5 435.0,825.2 436.2,826.2 438.8,836.2 439.6,836.6 441.2,838.8 444.5,831.2 446.4,833.7 447.5,836.2 449.4,833.7 450.5,831.2 453.0,810.0 455.0,808.8 457.0,820.0 459.5,837.5 462.0,843.8 465.0,835.0 466.9,831.6 468.8,830.0 471.2,841.2 473.8,860.0 475.5,877.5 477.5,887.5 479.5,865.0 482.5,856.2 483.6,853.5 485.0,851.2 487.5,833.8 488.6,833.7 490.5,831.2 491.8,831.4 493.8,833.8 496.2,842.5 498.0,851.2 500.5,840.0 503.0,847.5 505.0,850.0 507.5,833.8 508.4,833.7 510.0,831.2 512.5,847.5 515.0,835.0 517.0,827.5 519.5,836.2 522.5,846.2 523.7,846.6 525.5,848.8 528.8,841.2 532.0,830.0 534.5,837.5 535.7,836.4 537.5,836.2 540.0,830.0 542.5,847.5 545.0,840.0 548.0,832.5 549.2,830.8 550.5,827.5 551.5,826.3 553.0,822.5 556.2,837.5 559.5,820.0 562.0,812.5 563.6,812.6 564.5,811.2 567.0,822.5 569.5,835.0 572.0,817.5 573.1,816.0 575.0,815.0 576.8,817.6 578.0,820.0 579.3,818.6 581.2,815.0 583.8,800.0 586.2,787.5 588.8,775.0 590.2,776.6 591.2,776.2 593.8,792.5 596.2,775.0 598.8,747.5 600.5,741.2 602.5,752.5 604.5,770.0 607.5,785.0 610.0,795.0 611.4,792.8 613.0,791.2 615.5,805.0 618.0,822.5 621.2,832.5 623.0,834.0 624.5,836.2 625.9,837.3 627.5,837.5 630.0,843.8 631.6,840.9 633.0,840.0 634.3,838.4 636.2,837.5 639.5,830.0 642.0,845.0 644.5,856.2 647.0,843.8 648.3,842.5 650.0,842.5 651.2,843.2 653.0,846.2 654.5,849.3 656.2,851.2 659.5,865.0 662.0,847.5 663.2,844.6 664.5,842.5 667.5,858.8 670.0,845.0 671.5,844.9 673.0,843.8 674.8,842.3 676.2,840.0 678.3,839.0 679.5,837.5 680.7,836.0 682.5,835.0 685.5,817.5 688.0,825.0 690.5,832.5 692.1,833.8 693.8,836.2 695.8,837.0 697.0,838.8 698.1,838.0 700.0,835.0 703.0,825.0 705.5,818.8 708.8,830.0 709.7,827.6 711.2,825.0 713.8,815.0 715.4,817.7 717.0,821.2 718.0,820.7 719.5,817.5 722.0,823.8 724.5,812.5 727.0,796.2 729.5,778.8 732.0,785.0 733.6,785.7 735.0,787.5 738.0,772.5 741.2,765.0 743.8,771.2 747.0,757.5 750.0,750.0 752.0,732.5 753.8,718.8 756.2,736.2 758.8,715.0 761.2,701.2 762.8,705.2 763.8,706.2 766.2,687.5 768.8,673.8 770.6,672.6 772.0,672.5 773.6,669.6 775.0,666.2 778.0,676.2 780.5,666.2 781.9,664.8 783.8,665.0 786.2,652.5 787.5,640.0 790.0,633.0 790.9,631.9 792.5,628.0 794.4,624.1 795.5,623.0 798.0,613.0 801.2,600.5 802.8,597.9 803.8,595.5 806.2,580.5 808.8,568.0 810.0,565.9 811.2,565.5 813.8,575.5 816.2,565.5 817.4,563.5 818.8,563.0 820.4,561.7 822.0,559.2 822.9,560.1 824.5,563.0 827.5,553.0 829.5,544.2 832.0,551.8 833.8,565.5 835.5,578.0 838.0,589.2 839.8,586.7 841.2,583.0 843.1,581.0 844.5,578.0 847.0,570.5 849.5,584.2 852.0,570.5 853.4,568.4 854.5,565.5 856.2,568.0 858.0,585.5 859.5,608.0 861.2,628.0 863.0,638.0 865.0,650.5 867.0,666.8 868.5,665.3 869.5,665.5 871.2,675.5 873.8,690.5 875.5,698.0 878.0,689.2 880.5,700.5 882.1,704.4 883.8,706.8 885.6,707.7 887.5,710.5 890.0,723.0 892.5,736.0 894.5,725.5 896.2,714.2 898.0,736.0 900.5,745.0 901.7,746.0 903.8,746.2 906.2,757.5 908.0,765.0 910.5,758.8 913.0,767.5 914.1,768.9 916.2,770.0 918.0,771.9 919.5,775.0 921.2,790.0 923.8,798.8 925.2,800.6 927.0,801.2 930.0,812.5 932.5,802.5 933.6,802.2 935.0,800.0 938.0,810.0 941.2,818.8 943.0,825.0 944.3,823.8 946.2,820.0 948.1,821.3 949.5,823.8 950.9,822.5 952.5,820.0 955.0,826.2 957.5,832.5 960.0,823.8 963.0,833.8 966.2,826.2 967.5,829.0 969.5,831.2 972.0,837.5 975.0,846.2 976.8,843.1 978.0,842.5 980.5,835.0 983.8,842.5 985.4,840.4 987.5,838.8 989.3,839.8 991.2,842.5 994.5,850.0 995.7,849.6 997.0,847.5 1000.0,831.2 1001.7,832.6 1003.0,832.5 1004.9,837.1 1006.2,838.8 1009.5,828.8 1010.4,828.6 1012.0,826.2 1015.0,835.0 1016.3,832.0 1018.0,830.0 1021.2,817.5 1022.8,814.7 1024.5,812.5 1026.6,810.5 1028.0,810.5 1029.9,812.5 1031.2,815.0 1032.6,814.5 1033.8,812.5 1036.2,823.8 1039.5,832.5 1041.2,828.9 1042.5,827.5 1046.2,818.8 1047.6,819.6 1049.5,822.5 1051.0,825.2 1052.5,828.8 1055.0,835.0 1058.0,843.8 1059.4,842.8 1061.2,840.0 1065.0,851.2 1066.9,847.5 1068.0,846.2 1071.2,835.0 1074.5,843.8 1077.5,833.8 1079.3,829.6 1080.5,827.5 1083.8,835.0 1085.8,833.9 1087.0,832.5 1090.0,841.2 1093.8,826.2 1095.3,825.0 1097.0,825.0 1098.6,827.0 1100.0,827.5 1101.4,826.3 1102.5,826.2 1104.0,828.8 1105.0,831.2 1107.5,820.5 1110.0,826.2 1112.5,840.0 1115.0,852.5 1117.5,837.5 1120.0,847.5 1121.5,845.8 1122.5,846.2 1125.0,830.0 1126.3,829.3 1127.5,827.5 1130.0,837.5 1131.7,836.2 1133.0,836.2 1133.9,835.9 1135.5,833.8 1138.0,826.2 1139.2,825.7 1140.5,823.8 1143.0,836.2 1145.5,820.0 1147.5,810.5 1149.5,822.5 1152.5,831.2 1153.8,831.1 1156.2,832.5 1157.4,833.3 1159.5,832.5 1161.4,829.1 1162.5,826.2 1164.0,827.1 1165.5,826.2 1167.1,822.1 1168.8,819.5 1170.0,822.4 1171.2,823.8 1172.9,822.4 1174.5,822.5 1177.5,831.2 1180.5,818.8 1182.5,819.3 1183.8,818.8 1187.0,832.5 1190.0,818.8 1191.4,817.6 1193.0,817.5 1196.2,828.8 1198.8,815.0 1201.2,808.0 1203.8,813.8 1205.0,816.4 1207.0,818.8 1208.2,819.1 1210.0,821.2 1212.0,822.6 1213.8,825.0 1214.9,826.1 1217.0,826.2 1220.0,836.2 1221.6,833.2 1222.5,832.5 1225.0,825.0 1226.7,826.9 1228.0,830.0 1229.6,828.7 1231.2,826.2 1232.8,826.3 1234.5,827.5 1237.5,836.2 1239.1,835.4 1240.0,833.8 1243.0,822.5 1244.0,821.3 1245.5,817.5 1248.0,827.5 1251.2,819.5 1253.3,822.2 1254.5,825.0 1257.5,832.5 1259.4,833.6 1260.5,835.0 1261.9,833.0 1263.8,828.8 1265.2,828.1 1267.0,826.2 1268.7,829.0 1270.0,832.5 1271.6,834.4 1273.0,837.5 1275.0,833.8 1276.2,832.5 1277.8,828.8 1279.5,826.2 1281.3,824.0 1282.5,823.8 1284.3,827.0 1285.5,830.0 1287.4,828.7 1288.8,826.2 1290.2,829.3 1292.0,831.2 1293.0,832.4 1294.5,836.2 1297.0,822.5 1299.5,815.0 1302.0,825.0 1303.4,824.5 1305.5,825.0 1306.4,826.4 1308.0,827.5 1310.0,835.0 1311.8,832.7 1313.0,830.0 1316.2,840.0 1318.8,832.5 1320.6,829.1 1322.0,827.5 1323.7,827.7 1325.0,828.8 1326.6,829.0 1328.0,827.5 1331.2,840.0 1334.5,831.2 1336.4,829.7 1337.5,830.0 1340.0,837.5 1342.5,826.2 1343.9,824.2 1345.0,821.2 1347.5,808.0 1350.0,820.0 1351.4,821.3 1352.5,823.8 1354.5,815.0 1355.7,813.5 1357.0,813.0 1359.5,826.2 1362.0,837.5 1363.5,836.7 1365.0,835.0 1366.5,834.0 1368.8,833.8 1372.0,820.5 1374.5,840.0 1377.0,853.8 1379.5,840.0 1380.7,840.4 1382.5,838.8 1385.5,847.5 1388.8,837.5 1391.2,845.0 1393.8,855.0 1397.0,845.0 1398.1,842.1 1400.0,838.8 1401.7,840.7 1403.0,843.8 1404.1,845.5 1405.5,846.2 1407.0,843.2 1408.8,841.2 1409.9,839.1 1412.0,837.5 1414.5,830.0 1415.7,830.1 1417.5,828.8 1420.5,840.0 1423.8,827.5 1424.9,826.2 1426.2,826.2 1429.5,837.5 1430.4,838.8 1432.0,842.5 1434.5,853.8 1435.6,854.0 1437.5,852.5 1440.0,837.5 1441.2,837.8 1443.0,836.2 1444.4,837.6 1446.2,841.2 1448.1,840.3 1449.5,838.8 1450.8,839.0 1452.5,837.5 1454.7,835.1 1456.2,832.5 1457.6,834.1 1459.5,835.0 1460.6,834.0 1462.5,830.0 1464.4,827.6 1465.5,827.0 1467.6,830.3 1468.8,831.2 1470.5,834.0 1472.0,837.5 1473.4,841.2 1475.0,843.8 1476.7,841.8 1478.0,838.8 1481.2,851.2 1484.5,827.5 1485.6,825.8 1487.5,825.0 1490.0,831.2 1493.0,822.5 1496.2,833.8 1498.8,841.2 1500.1,839.3 1502.0,835.0 1503.7,838.3 1505.0,840.0 1506.1,842.5 1507.5,843.8 1510.5,835.0 1513.0,825.0 1516.2,837.5 1519.5,827.5 1521.0,830.3 1522.5,831.2 1524.1,828.6 1525.5,827.5 1528.8,835.0 1530.7,831.3 1532.0,830.0 1535.0,845.0 1538.0,832.5 1541.2,840.0 1544.5,828.8 1546.2,829.5 1547.5,831.2 1550.5,843.8 1553.8,835.0 1555.8,832.5 1557.0,830.0 1558.2,832.7 1560.0,835.0 1561.3,835.2 1562.5,833.8 1564.0,832.7 1565.8,830.0 1569.0,841.2 1570.4,842.5 1572.0,842.5 1575.0,826.2 1578.2,838.8 1581.5,823.8 1584.5,836.2 1585.8,838.1 1587.5,838.8 1589.4,837.6 1590.8,837.5 1594.0,826.2 1595.3,827.1 1597.0,830.0 1598.4,828.1 1600.0,825.0 1603.2,841.2 1606.5,822.5 1608.2,819.5 1610.8,830.0 1614.0,838.8 1617.0,828.8 1618.3,827.3 1620.0,824.5 1622.1,828.5 1623.2,830.0 1626.5,838.8 1628.4,838.0 1629.5,836.2 1630.8,834.7 1632.5,833.8 1633.7,832.1 1635.8,828.0 1637.8,831.7 1639.0,835.0 1642.0,843.8 1645.0,852.5 1646.2,855.1 1648.2,857.5 1649.3,856.4 1650.8,856.2 1653.2,845.0 1655.8,838.8 1659.0,848.8 1660.0,851.4 1661.5,853.8 1664.5,845.0 1666.2,847.1 1667.5,847.5 1669.3,844.7 1670.8,841.2 1672.2,838.2 1673.2,837.5 1676.5,848.8 1680.0,828.8 1683.2,842.5 1686.5,850.0 1689.5,842.5 1693.2,833.8 1696.5,845.0 1697.9,847.2 1699.0,850.0 1702.0,831.2 1703.5,834.6 1705.0,836.2 1706.7,838.2 1708.2,838.8 1710.0,836.7 1711.5,836.2 1713.2,839.0 1714.5,842.5 1716.4,843.5 1718.2,846.2 1719.4,843.5 1721.5,840.0 1722.8,838.2 1724.5,837.5 1725.9,839.4 1728.2,841.2 1729.5,841.5 1731.5,843.8 1734.5,836.2 1737.5,845.0 1739.3,845.0 1740.8,843.8 1744.0,830.0 1745.1,828.9 1746.5,826.2 1749.5,838.8 1751.2,835.1 1752.5,833.8 1754.1,833.7 1755.8,835.0 1757.6,834.4 1759.0,832.5 1760.4,831.9 1762.0,830.0 1763.7,830.8 1765.0,832.5 1766.5,831.3 1768.2,831.2 1772.0,840.0 1775.0,828.8 1776.5,830.9 1778.2,835.0 1780.8,826.2 1784.0,835.0 1785.6,832.3 1787.0,828.8 1788.7,831.1 1790.0,833.8 1792.0,832.2 1793.2,832.5 1795.8,823.8 1799.0,832.5 1800.5,830.8 1802.0,828.0 1803.5,830.5 1805.8,832.5 1807.4,829.9 1809.5,828.0 1813.2,836.2 1814.8,833.9 1816.5,830.0 1819.5,818.0 1822.5,832.5 1824.4,836.1 1825.8,837.5 1829.0,830.0 1830.2,830.6 1832.0,832.5 1834.5,825.0 1836.3,828.1 1837.5,831.2 1839.4,833.2 1841.5,833.8"/>
<polyline stroke="#000000" points="175.5,462.5 177.0,440.0 180.0,432.5 181.7,429.6 183.8,427.5 184.7,428.3 186.2,431.2 189.5,420.0 190.4,420.5 192.0,422.5 193.8,410.0 197.5,425.0 198.7,425.6 200.0,427.5 203.8,408.8 205.0,410.5 206.2,413.8 207.7,411.1 210.0,408.8 211.6,408.7 213.0,410.0 215.5,395.0 217.0,393.9 218.8,393.8 220.0,382.5 222.5,392.5 225.5,375.0 227.5,363.8 230.0,377.5 232.5,393.8 235.0,387.5 238.0,375.0 241.2,383.8 243.5,385.9 245.0,386.2 247.5,380.0 250.0,396.2 253.8,376.2 255.7,380.8 257.5,383.8 260.0,410.0 263.8,401.2 267.5,412.5 272.0,393.0 273.7,394.1 275.0,396.2 277.0,410.0 281.2,395.0 283.3,398.2 285.0,400.0 287.0,422.5 289.5,436.2 291.2,433.4 292.5,432.5 294.5,422.5 297.0,432.5 299.1,435.8 301.2,437.5 302.5,436.9 303.8,435.0 307.5,465.0 309.1,464.2 311.2,465.0 315.0,452.5 318.8,467.5 320.3,470.3 322.5,472.5 324.8,476.9 326.2,478.8 328.8,497.5 331.2,515.0 336.2,503.8 340.0,512.5 341.6,515.0 342.5,517.5 346.2,538.8 347.5,540.3 349.5,541.2 351.2,510.0 352.9,509.7 354.5,511.2 357.0,525.0 360.0,547.5 361.1,547.6 363.0,546.2 366.2,563.8 367.4,563.9 368.8,562.5 372.5,538.8 374.0,539.7 375.5,542.5 378.8,556.2 382.5,565.0 386.2,577.5 387.5,576.4 388.8,576.2 392.5,595.0 393.9,597.0 395.0,597.5 396.2,596.2 397.5,593.8 398.7,595.5 400.0,598.8 401.9,601.1 403.8,605.0 405.2,601.5 407.5,597.5 409.1,598.0 410.0,597.5 413.0,606.2 414.6,604.1 416.2,600.0 419.5,585.0 422.5,593.8 425.5,593.0 427.5,591.2 431.1,597.0 433.0,598.8 437.5,580.0 442.5,562.5 446.2,540.0 449.5,507.5 452.0,495.0 454.5,507.5 457.5,550.0 460.0,582.5 463.8,605.0 466.2,613.8 467.2,614.2 468.8,616.2 470.1,618.3 471.2,621.2 473.2,621.8 475.0,621.2 476.5,619.0 478.8,613.8 480.4,611.9 482.5,611.2 487.0,625.0 490.0,617.5 493.8,607.5 496.2,621.2 500.0,611.2 502.5,605.5 505.0,601.2 507.3,600.4 508.8,598.8 510.5,601.8 512.5,603.8 513.9,602.9 516.2,603.8 518.7,601.1 521.2,599.5 525.0,612.5 528.8,621.2 530.1,618.3 532.5,615.0 534.4,616.4 536.2,616.2 537.6,618.3 540.0,623.8 542.0,624.1 545.0,622.5 549.5,635.0 552.4,630.9 555.0,626.2 558.0,628.4 560.0,628.8 563.8,620.0 567.0,611.2 569.5,620.0 573.8,606.2 576.2,593.8 577.9,591.6 580.0,590.0 582.5,580.0 585.0,550.0 588.8,512.5 592.5,470.0 595.0,400.0 597.5,337.5 600.0,307.5 602.0,300.0 603.8,310.0 606.2,375.0 608.8,462.5 610.0,512.5 612.0,562.5 615.0,580.0 618.8,600.0 622.0,625.0 623.4,626.2 625.0,626.2 627.8,625.0 630.0,625.0 633.0,634.2 636.2,620.5 638.6,617.0 640.0,614.2 641.9,614.1 643.8,615.5 647.0,606.8 650.0,618.0 653.0,625.5 654.4,623.1 656.2,621.8 657.9,623.7 660.0,624.2 661.7,625.8 663.8,629.2 665.9,630.7 667.5,630.5 669.5,626.3 671.2,624.2 673.5,624.5 675.0,625.5 676.9,624.6 678.8,625.5 682.5,640.5 685.5,628.0 688.8,619.2 690.7,623.5 692.0,625.5 693.7,629.6 695.0,631.8 697.4,629.5 698.8,626.8 700.5,622.8 702.5,619.2 704.3,619.2 706.2,618.0 707.6,620.0 708.8,623.0 710.5,624.9 712.0,628.0 713.4,626.4 715.5,621.8 717.4,620.4 718.8,618.0 722.0,609.2 723.4,610.9 725.0,611.8 727.4,611.6 728.8,610.5 731.2,599.2 734.5,591.8 736.2,593.1 737.5,595.5 738.5,595.5 740.0,596.8 743.8,580.5 745.7,577.4 747.5,573.0 751.2,560.5 755.0,548.0 756.5,545.8 758.8,540.5 762.5,528.0 764.2,528.1 766.2,529.2 768.8,538.0 770.2,540.3 771.2,543.0 775.0,533.0 777.8,535.5 779.5,535.5 783.0,525.5 786.2,518.0 787.3,517.0 788.8,516.8 791.2,508.0 793.8,498.0 796.2,488.0 797.3,486.2 798.8,485.5 801.2,475.5 803.0,460.5 805.0,438.0 807.0,410.5 808.8,388.0 810.5,368.0 812.0,345.0 815.0,302.5 818.0,275.0 820.5,263.8 822.0,260.5 824.0,267.5 826.2,295.0 828.0,345.0 829.5,388.0 830.0,388.0 832.0,418.0 833.8,435.5 835.5,436.8 837.5,433.0 839.5,420.5 841.2,405.5 843.0,385.5 844.5,368.0 845.5,320.0 849.5,245.0 852.0,170.0 854.5,120.0 856.2,82.5 857.5,68.8 859.5,77.5 860.5,145.0 861.2,207.5 863.0,270.0 864.5,332.5 865.8,388.0 866.2,463.0 867.5,493.0 868.8,503.0 871.2,513.0 873.8,523.0 876.2,531.8 877.9,533.1 880.0,533.0 880.9,535.7 882.5,538.0 885.0,549.2 887.1,550.8 888.8,550.5 891.1,550.6 892.5,551.8 895.0,558.0 898.8,568.0 900.7,567.2 902.5,568.0 904.0,569.4 905.0,571.8 908.8,583.0 912.5,574.2 913.5,573.1 915.0,573.0 917.5,581.8 921.2,593.0 923.4,588.9 925.0,586.8 926.9,586.9 928.8,585.5 930.2,587.3 932.5,591.8 934.1,593.8 936.2,598.0 938.2,599.3 940.0,601.8 943.0,588.0 944.7,585.9 946.2,585.5 948.8,593.0 952.0,606.8 955.0,595.5 958.8,605.5 961.2,614.2 963.1,611.9 965.0,608.0 966.6,608.9 968.8,608.0 972.0,615.5 974.6,610.8 976.2,609.2 977.7,609.1 980.0,610.5 981.3,612.1 983.0,615.5 984.9,612.7 987.5,606.8 989.8,608.2 991.2,610.5 993.3,613.7 995.0,615.5 996.8,615.3 998.0,614.2 1000.1,611.1 1001.2,608.0 1005.0,598.0 1006.5,594.5 1008.8,590.5 1012.0,578.0 1015.0,560.5 1018.0,546.8 1019.2,546.2 1020.5,544.2 1023.0,550.5 1025.5,573.0 1028.8,598.0 1032.0,605.5 1033.2,608.5 1035.0,611.8 1038.8,623.0 1040.2,625.4 1042.0,626.8 1044.0,623.7 1046.2,621.8 1048.1,626.2 1050.0,629.2 1050.9,629.3 1052.5,631.8 1054.4,630.9 1057.5,628.0 1059.8,625.9 1061.2,625.5 1062.7,629.2 1065.0,633.0 1066.7,637.1 1068.0,639.2 1071.2,631.8 1073.2,630.6 1075.0,628.0 1076.4,624.4 1078.8,620.5 1080.3,619.4 1082.5,619.2 1083.8,618.0 1086.2,618.0 1088.8,610.5 1090.2,609.6 1092.5,609.2 1094.8,608.9 1096.2,608.0 1098.7,608.1 1100.0,606.8 1101.6,605.2 1103.8,604.2 1105.9,602.0 1107.5,601.8 1108.8,601.7 1110.5,603.0 1111.9,606.5 1113.8,609.2 1115.3,613.0 1117.5,616.8 1120.5,608.0 1121.8,606.3 1123.8,601.8 1126.2,602.9 1127.5,604.2 1129.6,605.7 1131.2,608.0 1132.8,606.9 1135.0,604.2 1137.2,606.5 1138.8,606.8 1140.7,605.1 1142.5,601.8 1144.2,601.4 1146.2,603.0 1147.9,601.2 1150.0,600.5 1151.7,598.5 1153.8,598.0 1154.9,600.0 1157.0,601.8 1158.1,604.4 1160.0,606.8 1163.0,593.0 1164.8,591.0 1166.2,588.0 1167.6,589.4 1168.8,591.8 1170.2,589.2 1172.5,584.2 1174.2,584.0 1176.2,581.8 1177.9,580.6 1179.5,580.5 1181.3,580.7 1182.5,581.8 1183.8,579.6 1186.2,574.2 1189.5,566.8 1192.0,560.5 1194.5,543.0 1196.2,535.5 1197.3,533.3 1198.8,531.8 1200.2,533.4 1201.2,535.5 1204.5,544.2 1207.5,553.0 1208.6,555.6 1210.5,558.0 1212.5,570.5 1215.0,588.0 1216.4,590.9 1218.0,593.0 1219.4,593.8 1221.2,596.8 1223.4,600.4 1225.0,601.8 1226.7,605.1 1228.0,606.8 1231.2,593.0 1233.1,590.0 1234.5,588.5 1237.0,594.2 1240.0,601.8 1242.3,606.3 1243.8,608.0 1246.0,607.9 1247.5,609.2 1248.9,609.1 1250.0,610.5 1252.0,606.1 1253.8,603.0 1255.1,603.4 1257.5,601.8 1259.2,603.0 1261.2,603.0 1263.3,600.3 1265.0,599.2 1266.3,597.6 1268.8,596.8 1270.0,594.8 1271.2,594.2 1273.8,601.8 1277.5,610.5 1280.0,603.0 1280.9,602.6 1282.5,600.5 1285.0,609.2 1286.4,610.7 1288.8,611.8 1290.9,611.7 1292.5,613.0 1294.1,614.6 1295.0,614.2 1298.0,606.8 1299.2,606.6 1301.2,604.2 1302.6,604.4 1303.8,605.5 1307.0,594.2 1308.2,597.5 1310.0,600.5 1313.0,608.0 1316.2,598.0 1317.6,594.8 1318.8,593.0 1319.7,593.0 1321.2,590.5 1323.8,596.8 1325.0,598.4 1327.0,603.0 1328.3,602.0 1330.0,599.2 1331.8,595.3 1333.8,593.0 1335.4,591.3 1337.0,588.0 1340.0,579.2 1342.5,573.0 1344.4,568.5 1345.5,566.8 1348.0,558.0 1350.5,543.0 1352.5,533.0 1354.5,530.5 1355.4,531.9 1357.0,531.8 1358.4,530.7 1360.0,530.5 1360.9,530.4 1362.5,528.0 1364.5,531.8 1366.2,545.5 1368.8,560.5 1370.5,575.5 1372.5,590.5 1375.0,600.5 1376.5,599.4 1378.8,595.5 1380.9,596.2 1382.5,598.0 1384.0,601.5 1385.0,603.0 1386.1,605.1 1388.0,606.8 1389.5,603.2 1391.2,600.5 1393.0,599.7 1395.0,600.5 1395.9,603.1 1397.5,605.5 1398.5,605.7 1400.0,608.0 1402.3,604.7 1403.8,601.8 1406.2,593.0 1407.5,593.4 1409.5,591.8 1411.1,590.6 1412.5,588.0 1414.2,586.0 1415.5,585.5 1416.4,584.4 1418.0,580.5 1420.5,568.0 1423.0,560.5 1424.0,563.1 1425.5,565.5 1428.0,578.0 1430.5,590.5 1433.0,600.5 1435.0,608.0 1436.3,609.9 1438.0,610.5 1439.6,606.7 1441.2,604.2 1442.6,602.1 1443.8,601.8 1444.9,604.7 1447.0,608.0 1448.7,610.1 1450.0,610.5 1452.3,610.8 1453.8,611.8 1455.5,611.1 1457.5,609.2 1459.2,607.0 1460.5,604.2 1463.8,611.8 1464.8,614.0 1466.2,615.5 1468.0,614.2 1470.0,614.2 1470.9,613.1 1472.5,609.2 1474.3,613.2 1476.2,615.5 1478.1,613.0 1480.0,611.8 1481.6,610.1 1483.8,609.2 1485.2,608.2 1487.5,608.0 1489.3,609.4 1490.5,611.8 1494.5,624.2 1497.5,611.8 1501.2,601.8 1503.1,606.0 1504.5,608.0 1506.2,608.1 1507.5,609.2 1509.2,609.1 1511.2,610.5 1513.8,618.0 1515.4,621.8 1517.0,624.2 1518.5,621.3 1520.0,619.2 1522.3,622.2 1523.8,623.0 1525.6,624.4 1527.5,624.2 1529.8,622.2 1531.2,621.8 1533.0,622.0 1535.0,620.5 1536.9,621.7 1538.8,624.2 1540.3,627.5 1541.2,628.0 1542.8,625.9 1545.0,624.2 1546.5,621.9 1548.8,620.5 1550.6,618.2 1552.0,615.5 1553.7,611.8 1555.0,610.5 1556.3,611.9 1558.0,615.5 1562.5,626.8 1565.5,618.0 1566.9,616.7 1568.8,616.8 1569.5,617.0 1571.4,617.0 1573.2,615.5 1574.5,615.7 1576.5,617.5 1578.4,620.8 1579.5,623.8 1581.1,622.8 1583.2,622.5 1585.8,617.0 1587.4,618.9 1589.5,620.0 1591.2,619.1 1593.2,619.5 1594.8,620.8 1597.0,623.8 1598.4,626.0 1600.0,627.5 1603.2,618.8 1606.5,610.0 1607.5,610.5 1609.0,610.0 1612.0,617.5 1613.6,620.2 1615.8,622.0 1617.3,619.4 1619.5,617.5 1621.6,619.7 1623.2,620.0 1624.8,619.6 1627.0,617.0 1629.5,608.0 1632.5,618.8 1634.1,618.1 1635.8,618.8 1639.0,607.5 1640.0,605.9 1641.5,605.0 1644.5,613.8 1645.7,616.0 1647.5,618.0 1649.2,616.2 1650.8,616.2 1653.2,610.0 1655.1,607.9 1657.0,607.5 1658.2,606.5 1660.0,603.8 1661.2,601.6 1663.2,599.5 1664.7,600.8 1665.8,603.0 1681.2,603.8 1690.8,603.0 1691.5,593.8 1693.2,601.2 1695.7,599.8 1697.0,600.0 1698.0,602.5 1699.5,605.0 1701.6,608.6 1703.2,610.0 1705.3,612.9 1706.5,613.8 1707.6,612.0 1709.5,607.5 1711.3,606.6 1713.2,607.0 1715.1,610.1 1716.5,611.2 1718.3,614.0 1719.5,615.0 1721.6,613.3 1723.2,613.0 1725.3,613.7 1726.5,615.0 1728.2,616.2 1729.5,616.2 1731.3,614.9 1733.2,612.5 1734.2,610.8 1735.8,610.0 1736.9,610.6 1739.0,613.8 1740.9,613.6 1742.0,612.5 1745.0,602.0 1748.2,612.5 1749.7,614.2 1751.5,617.5 1753.2,616.7 1754.5,614.5 1756.1,613.7 1758.2,613.8 1760.8,605.0 1762.3,604.5 1764.5,602.0 1766.3,601.2 1768.2,598.8 1770.6,596.1 1772.0,593.8 1773.5,596.1 1775.0,600.0 1778.2,608.8 1779.7,609.5 1780.8,611.2 1782.2,609.1 1784.0,605.0 1785.8,603.6 1787.0,603.8 1788.4,604.4 1790.0,606.2 1791.2,603.3 1793.2,600.0 1794.9,597.2 1796.5,596.2 1798.3,596.4 1799.5,597.5 1800.9,598.7 1803.2,602.5 1805.7,607.1 1807.0,608.8 1808.2,607.5 1810.0,603.8 1813.2,596.2 1815.0,594.8 1816.5,595.0 1817.8,598.4 1819.5,601.2 1821.2,600.6 1823.2,598.8 1824.8,597.1 1827.0,596.2 1828.1,597.3 1829.5,600.0 1831.3,599.3 1833.2,600.0 1835.0,608.8 1837.7,608.2 1841.5,609.2"/>
</g>
<g id="ticklabels" class="t" font-size="49.4" text-anchor="middle">
<text x="171.4" y="1341.0">20</text>
<text x="450.8" y="1341.0">30</text>
<text x="730.1" y="1341.0">40</text>
<text x="1009.2" y="1341.0">50</text>
<text x="1287.3" y="1341.0">60</text>
<text x="1566.1" y="1341.0">70</text>
<text x="1844.4" y="1341.0">80</text>
</g>
<text class="t" font-size="61.5" text-anchor="middle" transform="translate(57.1 644.0) rotate(-90)">Intesity (A.U.)</text>
<text class="t" font-size="60.6" y="1440.7"><tspan x="942.7">2</tspan><tspan x="1008.4">(</tspan><tspan dx="-0.2">°</tspan><tspan dx="-1.0">)</tspan></text>
<text font-family="'Liberation Serif', serif" font-size="56" fill="#000" transform="matrix(1.1 0 0 0.97 977.6 1439.7)">θ</text>
<g id="legend-series">
<rect x="1354.0" y="44.0" width="459.4" height="163.3" fill="#fff" stroke="#000" stroke-width="1.4"/>
<line x1="1361.0" y1="71.2" x2="1460.4" y2="71.2" stroke="#000000" stroke-width="1.4"/>
<text class="t" font-size="43" x="1471.3" y="86.3" textLength="335.5" lengthAdjust="spacing">BSG Fe MW 700</text>
<line x1="1361.0" y1="124.8" x2="1460.4" y2="124.8" stroke="#ff0000" stroke-width="1.4"/>
<text class="t" font-size="43" x="1471.3" y="141.0" textLength="335.5" lengthAdjust="spacing">BSG Fe MW 800</text>
<line x1="1361.0" y1="179.5" x2="1460.4" y2="179.5" stroke="#0000ff" stroke-width="1.4"/>
<text class="t" font-size="43" x="1471.3" y="195.6" textLength="335.5" lengthAdjust="spacing">BSG Fe MW 900</text>
</g>
<g id="legend-phases">
<rect x="1595.8" y="237.5" width="208.7" height="236.1" fill="#fff" stroke="#000" stroke-width="1.4"/>
<path class="m-spade" transform="translate(1616.7 249.7)" fill="#000080" d="M17.08 0.00L17.97 2.69L20.83 4.52L22.15 7.71L25.14 10.98L27.13 14.16L29.45 17.44L31.11 20.49L32.50 23.44L32.50 29.84L31.27 31.80L30.28 33.44L29.12 35.15L24.14 35.15L22.65 33.28L21.56 30.17L20.83 27.21L17.91 27.21L17.91 34.26L20.99 36.66L20.99 38.10L11.97 38.10L11.97 36.66L15.12 34.26L15.12 27.21L11.94 27.21L11.28 30.17L9.95 33.28L8.62 35.15L3.32 35.15L2.26 33.44L1.43 31.80L0.00 29.84L0.00 23.44L1.86 20.49L4.18 17.05L6.50 14.00L8.82 10.72L12.14 7.44L13.86 4.26L16.12 2.69Z"/>
<path class="m-heart" transform="translate(1626.8 336.6)" fill="#808080" d="M14.02 8.24C13.13 7.57 12.16 7.04 11.96 5.69C11.74 2.74 10.35 0.00 5.95 0.00C2.28 0.00 0.00 3.01 0.00 7.57C0.00 11.33 2.00 14.55 5.06 17.72C8.96 21.80 12.02 25.03 14.02 29.00C16.03 25.03 19.11 21.80 23.04 17.72C26.10 14.55 28.10 11.33 28.10 7.57C28.10 3.01 25.82 0.00 22.15 0.00C18.42 0.00 16.19 2.74 15.14 5.42C14.86 6.50 14.58 7.57 14.02 8.24Z"/>
<path class="m-club" transform="translate(1613.8 395.9)" fill="#008080" d="M16.28 14.05L14.39 13.44L12.74 12.38L11.45 10.94L10.60 9.23L10.26 7.36L10.45 5.47L11.16 3.70L12.33 2.17L13.89 1.00L15.73 0.25L17.70 0.00L19.67 0.25L21.51 1.00L23.07 2.17L24.24 3.70L24.95 5.47L25.14 7.36L24.80 9.23L23.95 10.94L22.66 12.38L21.01 13.44L19.12 14.05L19.08 17.87L22.18 17.86L23.37 16.25L24.89 15.05L26.64 14.32L28.50 14.12L30.34 14.46L32.04 15.32L33.48 16.65L34.56 18.34L35.22 20.29L35.40 22.36L35.09 24.41L34.31 26.30L33.13 27.90L31.61 29.11L29.86 29.84L28.00 30.04L26.16 29.69L24.46 28.83L23.02 27.51L21.93 25.82L19.08 25.80L19.08 31.47L22.22 33.51L22.22 34.80L13.18 34.80L13.18 33.51L16.32 31.47L16.32 25.80L13.53 25.82L12.45 27.51L11.01 28.83L9.31 29.69L7.47 30.04L5.61 29.84L3.86 29.11L2.34 27.90L1.15 26.30L0.38 24.41L0.07 22.36L0.25 20.29L0.90 18.34L1.99 16.65L3.43 15.32L5.13 14.46L6.97 14.12L8.83 14.32L10.58 15.05L12.10 16.25L13.28 17.86L16.32 17.87Z"/>
<text class="t" font-size="36" x="1675.2" y="268.9">F<tspan dx="2.4">e</tspan><tspan dx="1.7" dy="15.9">3</tspan><tspan dx="1.4" dy="-15.9">O</tspan><tspan dx="3.5" dy="15.9">4</tspan></text>
<text class="t" font-size="37.5" x="1675.5" y="355.2">r<tspan dx="1.3">G</tspan><tspan dx="1.0">O</tspan></text>
<text class="t" font-size="38" x="1675.0" y="430.4">F<tspan dx="1.5">e</tspan><tspan dx="2.4" dy="13.3">3</tspan><tspan dx="-0.2" dy="-13.3">C</tspan></text>
</g>
</svg>
</body></html>
